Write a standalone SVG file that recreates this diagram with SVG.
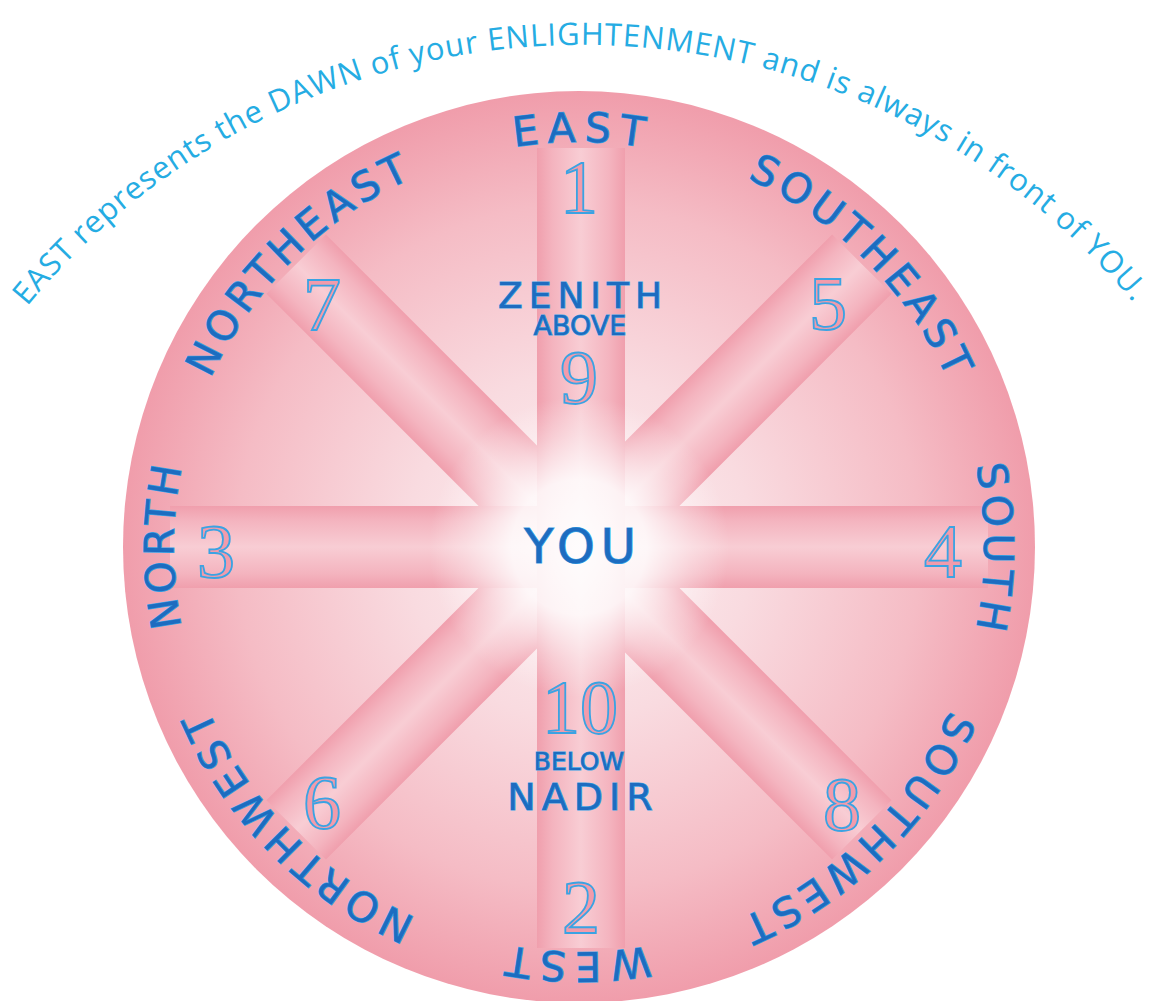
<svg xmlns="http://www.w3.org/2000/svg" width="1156" height="1001" viewBox="0 0 1156 1001">
<defs>
  <radialGradient id="bg" cx="579" cy="547" r="456" gradientUnits="userSpaceOnUse">
    <stop offset="0" stop-color="#fdf1f3"/>
    <stop offset="0.38" stop-color="#f9dbe0"/>
    <stop offset="0.75" stop-color="#f5bcc5"/>
    <stop offset="1" stop-color="#f09dab"/>
  </radialGradient>
  <linearGradient id="band" x1="0" y1="0" x2="1" y2="0">
    <stop offset="0" stop-color="#f09fad"/>
    <stop offset="0.18" stop-color="#f4b4bf"/>
    <stop offset="0.5" stop-color="#f8cdd4"/>
    <stop offset="0.82" stop-color="#f4b4bf"/>
    <stop offset="1" stop-color="#f09fad"/>
  </linearGradient>
  <radialGradient id="glow" cx="579" cy="547" r="150" gradientUnits="userSpaceOnUse">
    <stop offset="0" stop-color="#ffffff" stop-opacity="0.95"/>
    <stop offset="0.45" stop-color="#ffffff" stop-opacity="0.85"/>
    <stop offset="0.75" stop-color="#ffffff" stop-opacity="0.35"/>
    <stop offset="1" stop-color="#ffffff" stop-opacity="0"/>
  </radialGradient>
  <path id="ring" d="M 424 921.2 A 405 405 0 1 1 734 172.8 A 405 405 0 1 1 424 921.2"/>
  <path id="arc" d="M 27 306.6 A 719 719 0 0 1 1136 305.7"/>
  <style>
    .dir { font-family: "DejaVu Sans", "Liberation Sans", sans-serif; font-size: 41px; fill: #1d6cc0; stroke: #39a4e6; stroke-width: 1.3px; paint-order: stroke; text-anchor: middle; }
    .lbl { font-family: "DejaVu Sans", "Liberation Sans", sans-serif; fill: #1d6cc0; stroke: #39a4e6; stroke-width: 1.2px; paint-order: stroke; text-anchor: middle; }
    .num { font-family: "Liberation Serif", serif; font-size: 76px; fill: #f29bab; stroke: #3aa3e3; stroke-width: 1.8px; text-anchor: middle; }
    .banner { font-family: "Open Sans", Lato, sans-serif; font-size: 31px; fill: #25ace3; }
  </style>
</defs>
<rect width="1156" height="1001" fill="#ffffff"/>
<circle id="wheel" cx="579" cy="547" r="456" fill="url(#bg)"/>
<g id="spokes">
  <rect x="-42" y="-400" width="84" height="800" fill="url(#band)" transform="translate(579 547) rotate(-45)"/>
  <rect x="-42" y="-400" width="84" height="800" fill="url(#band)" transform="translate(579 547) rotate(45)"/>
  <rect x="-41" y="-409" width="82" height="818" fill="url(#band)" transform="translate(579 547) rotate(90)"/>
  <rect x="537" y="148" width="88" height="800" fill="url(#band)"/>
</g>
<circle id="center-glow" cx="579" cy="547" r="150" fill="url(#glow)"/>
<g id="directions">
  <text id="east" class="dir" letter-spacing="8"><textPath href="#ring" startOffset="1117">EAST</textPath></text>
  <text id="southeast" class="dir" letter-spacing="5"><textPath href="#ring" startOffset="1434">SOUTHEAST</textPath></text>
  <text id="south" class="dir" letter-spacing="5"><textPath href="#ring" startOffset="1752">SOUTH</textPath></text>
  <text id="southwest" class="dir" letter-spacing="5"><textPath href="#ring" startOffset="2071">SOUTHWEST</textPath></text>
  <text id="west" class="dir" letter-spacing="8"><textPath href="#ring" startOffset="2390">WEST</textPath></text>
  <text id="northwest" class="dir" letter-spacing="5"><textPath href="#ring" startOffset="162">NORTHWEST</textPath></text>
  <text id="north" class="dir" letter-spacing="4"><textPath href="#ring" startOffset="479">NORTH</textPath></text>
  <text id="northeast" class="dir" letter-spacing="5"><textPath href="#ring" startOffset="798">NORTHEAST</textPath></text>
</g>
<g id="numbers">
  <text id="n1" class="num" x="579" y="213">1</text>
  <text id="n9" class="num" x="579" y="403">9</text>
  <text id="n7" class="num" x="322" y="330">7</text>
  <text id="n5" class="num" x="828" y="329">5</text>
  <text id="n3" class="num" x="216" y="577">3</text>
  <text id="n4" class="num" x="943" y="577">4</text>
  <text id="n10" class="num" x="580" y="733">10</text>
  <text id="n2" class="num" x="581" y="933">2</text>
  <text id="n6" class="num" x="322" y="828">6</text>
  <text id="n8" class="num" x="842" y="830">8</text>
</g>
<g id="zenith">
  <text class="lbl" x="583" y="308" font-size="36" letter-spacing="6">ZENITH</text>
  <text class="lbl" x="580" y="335" font-size="27">ABOVE</text>
</g>
<g id="you">
  <text class="lbl" x="583" y="563" font-size="48" letter-spacing="6">YOU</text>
</g>
<g id="nadir">
  <text class="lbl" x="579" y="770" font-size="25">BELOW</text>
  <text class="lbl" x="583" y="810" font-size="38" letter-spacing="6">NADIR</text>
</g>
<g id="banner">
  <text class="banner"><textPath href="#arc" textLength="1262" lengthAdjust="spacing">EAST represents the DAWN of your ENLIGHTENMENT and is always in front of YOU.</textPath></text>
</g>
</svg>
